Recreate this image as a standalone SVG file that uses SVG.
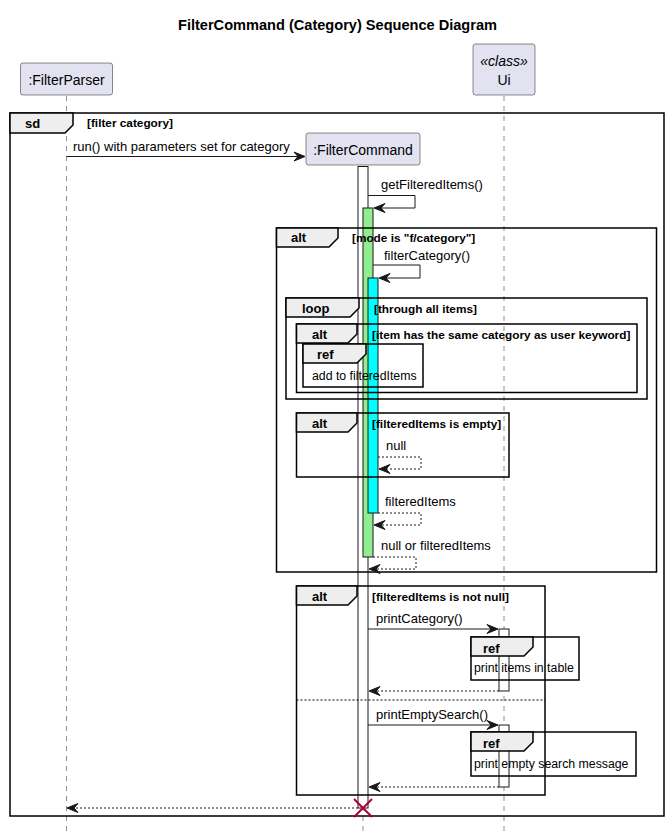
<svg xmlns="http://www.w3.org/2000/svg" width="671" height="839" viewBox="0 0 671 839">
<style>
text{font-family:"Liberation Sans",Arial,sans-serif;fill:#000}
.title{font-size:14.5px;font-weight:bold}
.pt{font-size:14px}
.msg{font-size:13px}
.kw{font-size:13px;font-weight:bold}
.gl{font-size:11.8px;font-weight:bold}
.rt{font-size:12.3px}
.part{fill:#E2E2F0;stroke:#181818;stroke-width:0.5}
.life{stroke:#181818;stroke-width:0.5;stroke-dasharray:5,5;fill:none}
.frame{fill:none;stroke:#000;stroke-width:1.5}
.tab{fill:#EEEEEE;stroke:#000;stroke-width:1.5}
.act{stroke:#181818;stroke-width:1}
.ln{fill:none;stroke:#181818;stroke-width:1}
.dl{fill:none;stroke:#181818;stroke-width:1;stroke-dasharray:2,2}
.ah{fill:#181818;stroke:#181818;stroke-width:1}
</style>
<rect width="671" height="839" fill="#fff"/>
<text class="title" x="337.5" y="30" text-anchor="middle" textLength="319" lengthAdjust="spacingAndGlyphs">FilterCommand (Category) Sequence Diagram</text>

<g id="lifelines">
<line class="life" x1="66.5" y1="96" x2="66.5" y2="832"/>
<line class="life" x1="363" y1="166" x2="363" y2="832"/>
<line class="life" x1="504" y1="96" x2="504" y2="832"/>
</g>

<g id="p-filterparser">
<rect class="part" x="20.5" y="63" width="92" height="32" rx="2.5"/>
<text class="pt" x="66.5" y="85" text-anchor="middle">:FilterParser</text>
</g>
<g id="p-ui">
<rect class="part" x="473" y="44" width="62" height="51" rx="2.5"/>
<text class="pt" x="504" y="66" text-anchor="middle" font-style="italic">«class»</text>
<text class="pt" x="504" y="85" text-anchor="middle">Ui</text>
</g>
<g id="p-filtercommand">
<rect class="part" x="306" y="133" width="114" height="32" rx="2.5"/>
<text class="pt" x="363" y="155" text-anchor="middle">:FilterCommand</text>
</g>

<g id="activations">
<rect class="act" x="358" y="166.5" width="10" height="641.5" fill="#fff"/>
<rect class="act" x="363" y="208" width="10" height="349" fill="#90EE90"/>
<rect class="act" x="368" y="278" width="10" height="235" fill="#00FFFF"/>
<rect class="act" x="499" y="629" width="10" height="62" fill="#fff"/>
<rect class="act" x="499" y="725" width="10" height="62" fill="#fff"/>
</g>

<g id="frame-sd">
<rect class="frame" x="10" y="113" width="654" height="703" stroke-width="2"/>
<path class="tab" d="M10,113 H73 V125 L65,133 H10 Z"/>
<text class="kw" x="25" y="128">sd</text>
<text class="gl" x="87" y="127">[filter category]</text>
</g>
<g id="frame-alt-mode">
<rect class="frame" x="276.5" y="228" width="380" height="344"/>
<path class="tab" d="M276.5,228 H338 V238 L329,247 H276.5 Z"/>
<text class="kw" x="291" y="242">alt</text>
<text class="gl" x="352" y="242">[mode is "f/category"]</text>
</g>
<g id="frame-loop">
<rect class="frame" x="286" y="298" width="361" height="101"/>
<path class="tab" d="M286,298 H359 V308 L350,317 H286 Z"/>
<text class="kw" x="302" y="313">loop</text>
<text class="gl" x="374" y="313">[through all items]</text>
</g>
<g id="frame-alt-item">
<rect class="frame" x="296.5" y="324" width="340.5" height="68.5"/>
<path class="tab" d="M296.5,324 H357 V334 L348,343 H296.5 Z"/>
<text class="kw" x="312" y="339">alt</text>
<text class="gl" x="372" y="339">[item has the same category as user keyword]</text>
</g>
<g id="ref-add">
<rect class="frame" x="303" y="344" width="120" height="43"/>
<path class="tab" d="M303,344 H366 V354 L357,363 H303 Z"/>
<text class="kw" x="317" y="359">ref</text>
<text class="rt" x="312" y="380">add to filteredItems</text>
</g>
<g id="frame-alt-empty">
<rect class="frame" x="296.5" y="413" width="212.5" height="64"/>
<path class="tab" d="M296.5,413 H357 V423 L348,432 H296.5 Z"/>
<text class="kw" x="312" y="428">alt</text>
<text class="gl" x="372" y="428">[filteredItems is empty]</text>
</g>
<g id="frame-alt-notnull">
<rect class="frame" x="296.5" y="586" width="248.5" height="209"/>
<path class="tab" d="M296.5,586 H357 V596 L348,605 H296.5 Z"/>
<text class="kw" x="312" y="601">alt</text>
<text class="gl" x="372" y="601">[filteredItems is not null]</text>
<line x1="296.5" y1="700" x2="545" y2="700" stroke="#000" stroke-width="1" stroke-dasharray="2,2"/>
</g>
<g id="ref-print-items">
<rect class="frame" x="471" y="637" width="108" height="43"/>
<path class="tab" d="M471,637 H533 V647 L524,656 H471 Z"/>
<text class="kw" x="483" y="653">ref</text>
<text class="rt" x="474" y="672">print items in table</text>
</g>
<g id="ref-print-empty">
<rect class="frame" x="471" y="732" width="165" height="44"/>
<path class="tab" d="M471,732 H533 V742 L524,751 H471 Z"/>
<text class="kw" x="483" y="748">ref</text>
<text class="rt" x="474" y="768">print empty search message</text>
</g>

<g id="connectors">
<line class="ln" x1="66.5" y1="156.5" x2="303" y2="156.5"/>
<polygon class="ah" points="294,152 305,156.5 294,161 298,156.5"/>
<text class="msg" x="73" y="151">run() with parameters set for category</text>

<polyline class="ln" points="368,195.5 415,195.5 415,208 376,208"/>
<polygon class="ah" points="385,203.5 374,208 385,212.5 381,208"/>
<text class="msg" x="381" y="189">getFilteredItems()</text>

<polyline class="ln" points="373,265 420,265 420,278 381,278"/>
<polygon class="ah" points="390,273.5 379,278 390,282.5 386,278"/>
<text class="msg" x="384" y="260">filterCategory()</text>

<polyline class="dl" points="378,457 421,457 421,469 381,469"/>
<polygon class="ah" points="390,464.5 379,469 390,473.5 386,469"/>
<text class="msg" x="386" y="450">null</text>

<polyline class="dl" points="378,513 421,513 421,525 376,525"/>
<polygon class="ah" points="385,520.5 374,525 385,529.5 381,525"/>
<text class="msg" x="385" y="506">filteredItems</text>

<polyline class="dl" points="373,557 416,557 416,569 371,569"/>
<polygon class="ah" points="380,564.5 369,569 380,573.5 376,569"/>
<text class="msg" x="381" y="550">null or filteredItems</text>

<line class="ln" x1="368" y1="629" x2="496" y2="629"/>
<polygon class="ah" points="487,624.5 498,629 487,633.5 491,629"/>
<text class="msg" x="376" y="623">printCategory()</text>

<line class="dl" x1="499" y1="691" x2="371" y2="691"/>
<polygon class="ah" points="380,686.5 369,691 380,695.5 376,691"/>

<line class="ln" x1="368" y1="725" x2="496" y2="725"/>
<polygon class="ah" points="487,720.5 498,725 487,729.5 491,725"/>
<text class="msg" x="376" y="719">printEmptySearch()</text>

<line class="dl" x1="499" y1="787" x2="371" y2="787"/>
<polygon class="ah" points="380,782.5 369,787 380,791.5 376,787"/>

<line class="dl" x1="358" y1="808" x2="69" y2="808"/>
<polygon class="ah" points="78,803.5 67,808 78,812.5 74,808"/>
</g>

<g id="destroy" stroke="#A80036" stroke-width="2">
<line x1="354" y1="799" x2="372" y2="817"/>
<line x1="372" y1="799" x2="354" y2="817"/>
</g>
</svg>
